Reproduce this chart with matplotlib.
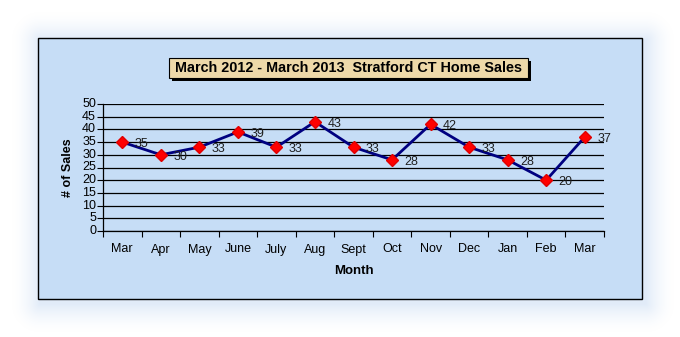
import numpy as np
import matplotlib
matplotlib.use("Agg")
import matplotlib.pyplot as plt
from matplotlib.patches import Rectangle

months = ["Mar", "Apr", "May", "June", "July", "Aug", "Sept",
          "Oct", "Nov", "Dec", "Jan", "Feb", "Mar"]
sales = [35, 30, 33, 39, 33, 43, 33, 28, 42, 33, 28, 20, 37]
y_ticks = [0, 5, 10, 15, 20, 25, 30, 35, 40, 45, 50]

title = "March 2012 - March 2013  Stratford CT Home Sales"

W, H = 680, 337
plt.rcParams["font.family"] = ["Liberation Sans", "DejaVu Sans"]

fig = plt.figure(figsize=(W / 100, H / 100), dpi=100)
fig.patch.set_facecolor("white")

# soft blue glow behind the chart frame
fl, ft, fr, fb = 38, 38, 642, 299
bg = fig.add_axes([0, 0, 1, 1])
bg.set_xlim(0, W)
bg.set_ylim(H, 0)
bg.axis("off")
yy, xx = np.mgrid[0:H, 0:W] + 0.5
dx = np.maximum(np.maximum(fl + 2 - xx, xx - fr - 4), 0)
dy = np.maximum(np.maximum(ft + 2 - yy, yy - fb - 5), 0)
dist = np.hypot(dx, dy)
alpha = np.clip(1 - dist / 30, 0, 1) ** 1.8 * 0.6
glow = np.zeros((H, W, 4))
glow[..., 0] = 205 / 255
glow[..., 1] = 222 / 255
glow[..., 2] = 244 / 255
glow[..., 3] = alpha
bg.imshow(glow, extent=[0, W, H, 0], interpolation="bilinear")

# chart frame
bg.add_patch(Rectangle((fl, ft), fr - fl, fb - ft, facecolor="#c6ddf6",
                       edgecolor="black", linewidth=1.0, zorder=2))

# title box with drop shadow
tl, tt, tr, tb = 169, 58, 528, 78
bg.add_patch(Rectangle((tl + 3, tt + 3), tr - tl, tb - tt, facecolor="black",
                       edgecolor="none", zorder=3))
bg.add_patch(Rectangle((tl, tt), tr - tl, tb - tt, facecolor="#eed9a9",
                       edgecolor="black", linewidth=0.8, zorder=4))
bg.text((tl + tr) / 2, (tt + tb) / 2 + 0.5, title, ha="center", va="center",
        fontsize=10.4, fontweight="bold", color="black", zorder=5)

# plot area
pl, pt, pr, pb = 103, 104, 604, 231
ax = fig.add_axes([pl / W, (H - pb) / H, (pr - pl) / W, (pb - pt) / H])
ax.patch.set_alpha(0)
x = np.arange(len(months))
ax.plot(x, sales, color="#000080", linewidth=2, zorder=3)
ax.plot(x, sales, linestyle="none", marker="D", markersize=6,
        color="#ff0000", markeredgecolor="#e00000", zorder=4)
for xi, v in zip(x, sales):
    ax.annotate(str(v), (xi, v), xytext=(9, -1.5), textcoords="offset points",
                fontsize=9, color="#202020", va="center", ha="left", zorder=5)

ax.set_xlim(-0.5, len(months) - 0.5)
ax.set_ylim(0, 50)
ax.set_yticks(y_ticks)
ax.set_xticks(x)
ax.set_xticklabels(months)
ax.set_xticks(np.arange(len(months) + 1) - 0.5, minor=True)
ax.tick_params(axis="x", which="major", length=0, labelsize=9, pad=9)
ax.tick_params(axis="x", which="minor", length=4, direction="out", width=0.8)
ax.tick_params(axis="y", length=4, width=0.8, labelsize=9, pad=1)
for t in ax.get_yticklabels():
    t.set_verticalalignment("center")
ax.grid(axis="y", color="black", linewidth=0.9)
for s in ("top", "right"):
    ax.spines[s].set_visible(False)
ax.spines["left"].set_linewidth(0.9)
ax.spines["bottom"].set_linewidth(0.9)
ax.set_axisbelow(True)

ax.set_ylabel("# of Sales", fontsize=9, fontweight="bold", labelpad=6)
ax.set_xlabel("Month", fontsize=9.5, fontweight="bold", labelpad=7)

fig.savefig("out.png", dpi=100)
